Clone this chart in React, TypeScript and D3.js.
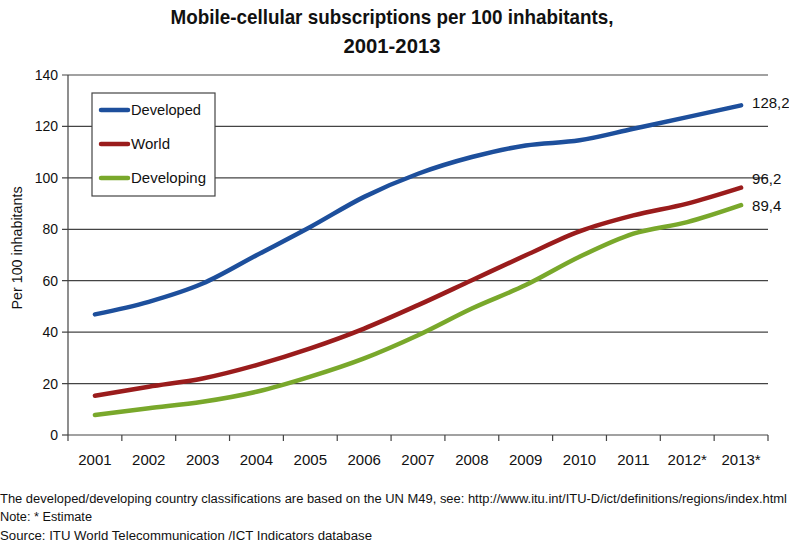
import React from "react";
import * as d3 from "d3";

const years = ["2001","2002","2003","2004","2005","2006","2007","2008","2009","2010","2011","2012*","2013*"];
const developed = [46.9, 51.8, 58.9, 69.9, 80.9, 92.6, 101.6, 108.1, 112.6, 114.6, 119.1, 123.6, 128.2];
const world = [15.3, 18.8, 22.0, 27.2, 33.7, 41.4, 50.5, 60.2, 69.9, 79.2, 85.4, 90, 96.2];
const developing = [7.8, 10.4, 12.9, 16.8, 22.7, 29.8, 38.8, 49.2, 58.3, 69.3, 78.3, 82.8, 89.4];
const yTicks = [0, 20, 40, 60, 80, 100, 120, 140];
const seriesNames = ["Developed", "World", "Developing"];
const endLabels = ["128,2", "96,2", "89,4"];

const colors = ["#1d4f9c", "#9a1c1c", "#79a82b"];
const font = "'Liberation Sans', Arial, sans-serif";

export default function App() {
  const W = 789, H = 546;
  const left = 68, right = 768, top = 75, bottom = 435;
  const x = d3.scaleBand<string>().domain(years).range([left, right]);
  const y = d3.scaleLinear().domain([0, 140]).range([bottom, top]);
  const cx = (i: number) => (x(years[i]) as number) + x.bandwidth() / 2;
  const line = d3.line<number>().x((_, i) => cx(i)).y((d) => y(d)).curve(d3.curveMonotoneX);
  const data = [developed, world, developing];
  const boundaries = years.map((yr) => x(yr) as number).concat([right]);
  const endDy = [-2, -9, 1];

  return (
    <svg width={W} height={H} style={{ position: "absolute", left: 0, top: 0, background: "#fff" }}>
      <text x={392} y={24} textAnchor="middle" fontFamily={font} fontWeight="bold" fontSize={20.5} fill="#111" textLength={443} lengthAdjust="spacingAndGlyphs">
        Mobile-cellular  subscriptions  per 100 inhabitants,
      </text>
      <text x={392} y={53} textAnchor="middle" fontFamily={font} fontWeight="bold" fontSize={20.5} fill="#111" textLength={97} lengthAdjust="spacingAndGlyphs">
        2001-2013
      </text>
      {yTicks.map((t) => (
        <g key={t}>
          <line x1={left - 6} x2={t === 0 ? left : right} y1={y(t)} y2={y(t)} stroke="#444" strokeWidth={1.2} />
          <text x={left - 10} y={y(t) + 5} textAnchor="end" fontFamily={font} fontSize={14} fill="#111">{t}</text>
        </g>
      ))}
      <line x1={left} x2={left} y1={top} y2={bottom} stroke="#444" strokeWidth={1.2} />
      <line x1={left} x2={right} y1={bottom} y2={bottom} stroke="#444" strokeWidth={1.2} />
      {boundaries.map((b, i) => (
        <line key={i} x1={b} x2={b} y1={bottom} y2={bottom + 6} stroke="#444" strokeWidth={1.2} />
      ))}
      {years.map((yr, i) => (
        <text key={yr} x={cx(i)} y={bottom + 30} textAnchor="middle" fontFamily={font} fontSize={15} fill="#111">{yr}</text>
      ))}
      <text transform={`translate(22, 248) rotate(-90)`} textAnchor="middle" fontFamily={font} fontSize={14} fill="#111" textLength={123} lengthAdjust="spacingAndGlyphs">
        Per 100 inhabitants
      </text>
      {data.map((d, k) => (
        <path key={k} d={line(d) as string} fill="none" stroke={colors[k]} strokeWidth={4.5} strokeLinecap="round" />
      ))}
      {data.map((d, k) => (
        <text key={k} x={cx(12) + 11} y={y(d[12]) + 5 + endDy[k]} fontFamily={font} fontSize={15} fill="#111">{endLabels[k]}</text>
      ))}
      <rect x={92} y={93} width={123} height={103} fill="#fff" stroke="#444" strokeWidth={1.2} />
      {seriesNames.map((n, k) => (
        <g key={n}>
          <line x1={101} x2={128} y1={110 + k * 34} y2={110 + k * 34} stroke={colors[k]} strokeWidth={4.5} strokeLinecap="round" />
          <text x={131} y={110 + k * 34 + 5} fontFamily={font} fontSize={15} fill="#111" textLength={k === 1 ? 39 : k === 0 ? 70 : 75} lengthAdjust="spacingAndGlyphs">{n}</text>
        </g>
      ))}
      <text x={0} y={503} fontFamily={font} fontSize={12.5} fill="#111" textLength={787} lengthAdjust="spacingAndGlyphs">
        The developed/developing country classifications are based on the  UN M49, see: http://www.itu.int/ITU-D/ict/definitions/regions/index.html
      </text>
      <text x={0} y={521} fontFamily={font} fontSize={12.5} fill="#111" textLength={92} lengthAdjust="spacingAndGlyphs">Note:  * Estimate</text>
      <text x={0} y={540} fontFamily={font} fontSize={12.5} fill="#111" textLength={372} lengthAdjust="spacingAndGlyphs">Source:  ITU World Telecommunication /ICT Indicators database</text>
    </svg>
  );
}
